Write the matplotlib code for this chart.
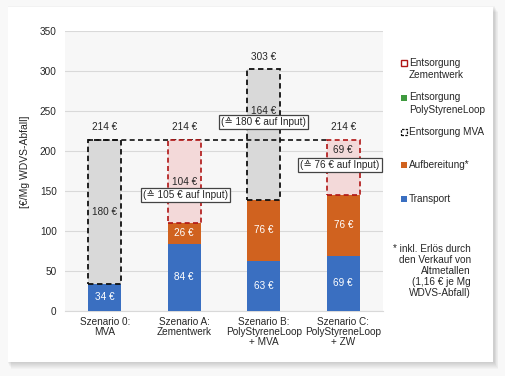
import matplotlib
matplotlib.use("Agg")
import matplotlib.pyplot as plt
from matplotlib.patches import Rectangle
import numpy as np

plt.rcParams['font.family'] = ['Liberation Sans', 'DejaVu Sans']

categories = ["Szenario 0:\nMVA", "Szenario A:\nZementwerk",
              "Szenario B:\nPolyStyreneLoop\n+ MVA", "Szenario C:\nPolyStyreneLoop\n+ ZW"]
transport = [34, 84, 63, 69]
aufbereitung = [0, 26, 76, 76]
entsorgung_mva = [180, 0, 164, 0]
entsorgung_zw = [0, 104, 0, 69]
totals = [214, 214, 303, 214]
input_notes = [None, "(≙ 105 € auf Input)", "(≙ 180 € auf Input)", "(≙ 76 € auf Input)"]
yticks = [0, 50, 100, 150, 200, 250, 300, 350]

W, H = 506, 376
fig = plt.figure(figsize=(W/100, H/100), dpi=100, facecolor='#f8f8f8')

def fx(px): return px / W
def fy(py): return 1 - py / H

# card shadow + card
for d in range(1, 8):
    fig.patches.append(Rectangle((fx(8 - 1 + d * 0.6), fy(362 + d)), fx(485 + 2), (355 + 2) / H,
                                 transform=fig.transFigure, facecolor='#000000',
                                 alpha=0.022, edgecolor='none', zorder=0))
fig.patches.append(Rectangle((fx(8), fy(362)), fx(485), 355 / H, transform=fig.transFigure,
                             facecolor='white', edgecolor='none', zorder=1))

ax = fig.add_axes([fx(65), fy(311), fx(383 - 65), (311 - 31) / H])
ax.set_facecolor('#f7f7f7')
ax.set_zorder(2)

blue = '#3a6fc1'
orange = '#d0621f'
gray = '#d9d9d9'
pink = '#f3d9d9'
darkred = '#b01515'
green = '#3f9a3f'

x = np.arange(len(categories))
w = 0.42
ax.bar(x, transport, w, color=blue, zorder=3)
ax.bar(x, aufbereitung, w, bottom=transport, color=orange, zorder=3)
bottom2 = [t + a for t, a in zip(transport, aufbereitung)]
for i in range(len(x)):
    if entsorgung_mva[i] > 0:
        ax.bar(x[i], entsorgung_mva[i], w, bottom=bottom2[i], color=gray,
               edgecolor='#111111', linestyle=(0, (3, 2)), linewidth=1.3, zorder=3)
    if entsorgung_zw[i] > 0:
        ax.bar(x[i], entsorgung_zw[i], w, bottom=bottom2[i], color=pink,
               edgecolor=darkred, linestyle=(0, (3, 2)), linewidth=1.2, zorder=4.5)

# dashed reference line at 214
ax.plot([x[0] - w/2, x[3] - w/2], [totals[0], totals[0]], color='#111111',
        linestyle=(0, (3, 2)), linewidth=1.2, zorder=4)

fs = 7.2
tc = '#262626'
for i in range(len(x)):
    ax.text(x[i], transport[i]/2, f"{transport[i]} €", color='white', ha='center', va='center', fontsize=fs, zorder=5)
    if aufbereitung[i] > 0:
        ax.text(x[i], transport[i] + aufbereitung[i]/2, f"{aufbereitung[i]} €", color='white',
                ha='center', va='center', fontsize=fs, zorder=5)
    top_off = 14 if totals[i] > 250 else 16
    ax.text(x[i], totals[i] + top_off, f"{totals[i]} €", color=tc, ha='center', va='center', fontsize=fs, zorder=5)

# entsorgung labels
ax.text(x[0], bottom2[0] + entsorgung_mva[0]/2, f"{entsorgung_mva[0]} €", ha='center', va='center', fontsize=fs, color=tc, zorder=5)
ent_label_y = [None, 161, 250, 201]
note_y = [None, 145, 236, 182]
ent_vals = [None, entsorgung_zw[1], entsorgung_mva[2], entsorgung_zw[3]]
note_x = [None, x[1] + 0.02, x[2], x[3] - 0.04]
for i in range(1, 4):
    ax.text(x[i], ent_label_y[i], f"{ent_vals[i]} €", ha='center', va='center', fontsize=fs, color=tc, zorder=5)
    ax.text(note_x[i], note_y[i], input_notes[i], ha='center', va='center', fontsize=fs,
            color=tc, zorder=6,
            bbox=dict(boxstyle='square,pad=0.2', facecolor='white', edgecolor='#444444', linewidth=0.9))

ax.set_xlim(-0.5, 3.5)
ax.set_ylim(0, 350)
ax.set_yticks(yticks)
ax.set_xticks(x)
ax.set_xticklabels(categories, fontsize=fs, color=tc, linespacing=1.05)
ax.tick_params(axis='y', labelsize=fs, colors=tc, length=0, pad=6)
ax.tick_params(axis='x', length=0, pad=4)
ax.grid(axis='y', color='#d9d9d9', linewidth=0.8, zorder=0)
ax.set_axisbelow(True)
for s in ax.spines.values():
    s.set_visible(False)
ax.spines['bottom'].set_visible(True)
ax.spines['bottom'].set_color('#d9d9d9')

fig.text(fx(25), fy(162), "[€/Mg WDVS-Abfall]", rotation=90, ha='center', va='center',
         fontsize=7.5, color=tc, zorder=5)

# legend (manual)
legend_items = [
    ("Entsorgung\nZementwerk", 69, dict(facecolor='white', edgecolor=darkred, linewidth=1.0)),
    ("Entsorgung\nPolyStyreneLoop", 103.5, dict(facecolor=green, edgecolor='none')),
    ("Entsorgung MVA", 132, dict(facecolor='white', edgecolor='#111111', linewidth=0.9, linestyle=(0, (2, 1)))),
    ("Aufbereitung*", 165, dict(facecolor=orange, edgecolor='none')),
    ("Transport", 199, dict(facecolor=blue, edgecolor='none')),
]
for label, ypx, style in legend_items:
    nlines = label.count('\n') + 1
    first_y = ypx - (nlines - 1) * 6
    fig.patches.append(Rectangle((fx(401), fy(first_y + 3)), 6 / W, 6 / H, transform=fig.transFigure,
                                 zorder=5, **style))
    fig.text(fx(409), fy(ypx), label, ha='left', va='center', fontsize=fs, color=tc,
             linespacing=1.3, zorder=5)

fig.text(fx(471), fy(271), "* inkl. Erlös durch\nden Verkauf von\nAltmetallen\n(1,16 € je Mg\nWDVS-Abfall)",
         ha='right', va='center', fontsize=fs, color=tc, linespacing=1.1, zorder=5, multialignment='right')

fig.savefig("out.png", dpi=100, facecolor=fig.get_facecolor())
